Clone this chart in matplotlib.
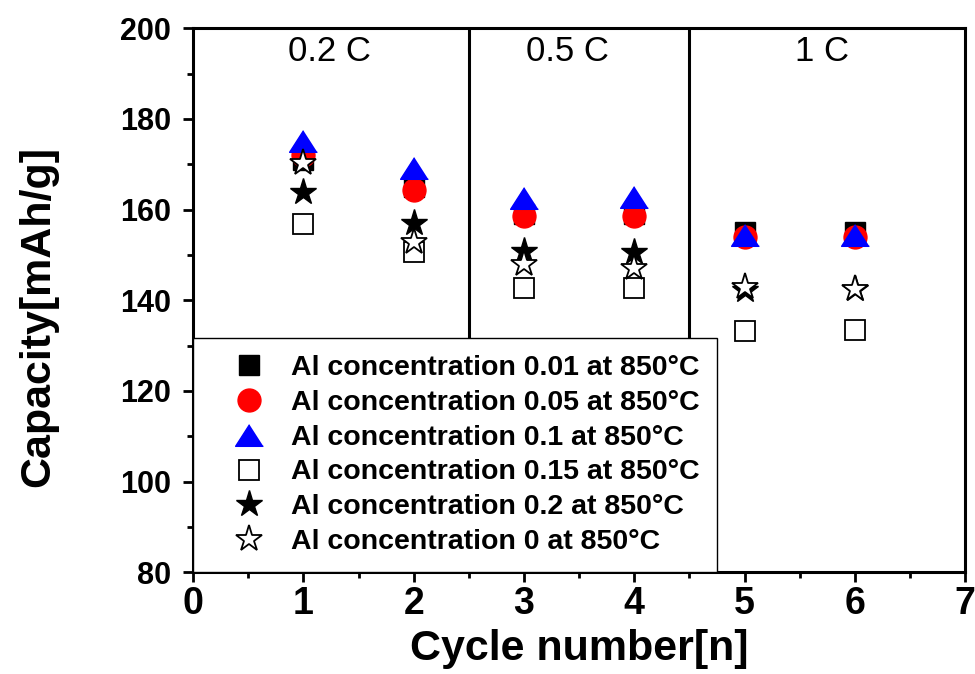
import matplotlib
matplotlib.use('Agg')
import matplotlib.pyplot as plt
from matplotlib.ticker import MultipleLocator

# dados
cycles = [1, 2, 3, 4, 5, 6]
al_001 = [171.0, 165.0, 159.0, 159.0, 155.1, 155.1]
al_005 = [172.0, 164.3, 158.7, 158.5, 154.0, 154.0]
al_01 = [175.2, 169.1, 162.6, 162.7, 154.5, 154.5]
al_015 = [156.9, 150.6, 142.7, 142.8, 133.2, 133.5]
al_02 = [163.9, 157.0, 150.9, 150.7, 142.2, 142.4]
al_0 = [170.2, 152.8, 148.1, 147.1, 142.9, 142.5]

labels = ['Al concentration 0.01 at 850\u00b0C',
          'Al concentration 0.05 at 850\u00b0C',
          'Al concentration 0.1 at 850\u00b0C',
          'Al concentration 0.15 at 850\u00b0C',
          'Al concentration 0.2 at 850\u00b0C',
          'Al concentration 0 at 850\u00b0C']

rate_names = ['0.2 C', '0.5 C', '1 C']
rate_x = [1.24, 3.39, 5.7]
rate_bounds = [2.5, 4.5]

plt.rcParams['font.family'] = ['Liberation Sans', 'DejaVu Sans']

fig = plt.figure(figsize=(9.75, 6.74), dpi=100)
ax = fig.add_axes([0.198, 0.151, 0.792, 0.807])

tri = [(0, 0.78), (-1, -0.78), (1, -0.78)]  # triangulo mais largo tipo origin

ax.plot(cycles, al_001, ls='none', marker='s', ms=15, color='black', label=labels[0])
ax.plot(cycles, al_005, ls='none', marker='o', ms=16.5, color='red', label=labels[1])
ax.plot(cycles, al_01, ls='none', marker=tri, ms=20, color='blue', label=labels[2])
ax.plot(cycles, al_015, ls='none', marker='s', ms=15, mfc='white', mec='black', mew=1.3, label=labels[3])
ax.plot(cycles, al_02, ls='none', marker='*', ms=20, color='black', label=labels[4])
ax.plot(cycles, al_0, ls='none', marker='*', ms=20, mfc='white', mec='black', mew=1.3, label=labels[5])

for xb in rate_bounds:
    ax.axvline(xb, color='black', lw=2.2, zorder=1)  # separa as taxas
for name, xr in zip(rate_names, rate_x):
    ax.text(xr, 198.6, name, ha='center', va='top', fontsize=25)

ax.set_xlim(0, 7)
ax.set_ylim(80, 200)
ax.xaxis.set_major_locator(MultipleLocator(1))
ax.xaxis.set_minor_locator(MultipleLocator(0.5))
ax.yaxis.set_major_locator(MultipleLocator(20))
ax.yaxis.set_minor_locator(MultipleLocator(10))
ax.tick_params(which='major', direction='out', length=7, width=2)
ax.tick_params(which='minor', direction='out', length=4, width=2)
ax.tick_params(axis='x', labelsize=27, pad=3)
ax.tick_params(axis='y', labelsize=22, pad=9)
for lab in ax.get_xticklabels() + ax.get_yticklabels():
    lab.set_fontweight('bold')
for sp in ax.spines.values():
    sp.set_linewidth(2.2)

ax.set_xlabel('Cycle number[n]', fontweight='bold', fontsize=31, labelpad=5)
ax.set_ylabel('Capacity[mAh/g]', fontweight='bold', fontsize=31)
ax.yaxis.set_label_coords(-0.175, 0.47)

leg = ax.legend(loc='lower left', bbox_to_anchor=(0, 0), borderaxespad=0,
                prop={'weight': 'bold', 'size': 20.5}, frameon=True, fancybox=False,
                edgecolor='black', framealpha=1, handlelength=2.7, handletextpad=0.15,
                labelspacing=0.31, borderpad=0.6)
leg.get_frame().set_linewidth(1.0)
leg.set_zorder(5)

fig.savefig('out.png', dpi=100)
